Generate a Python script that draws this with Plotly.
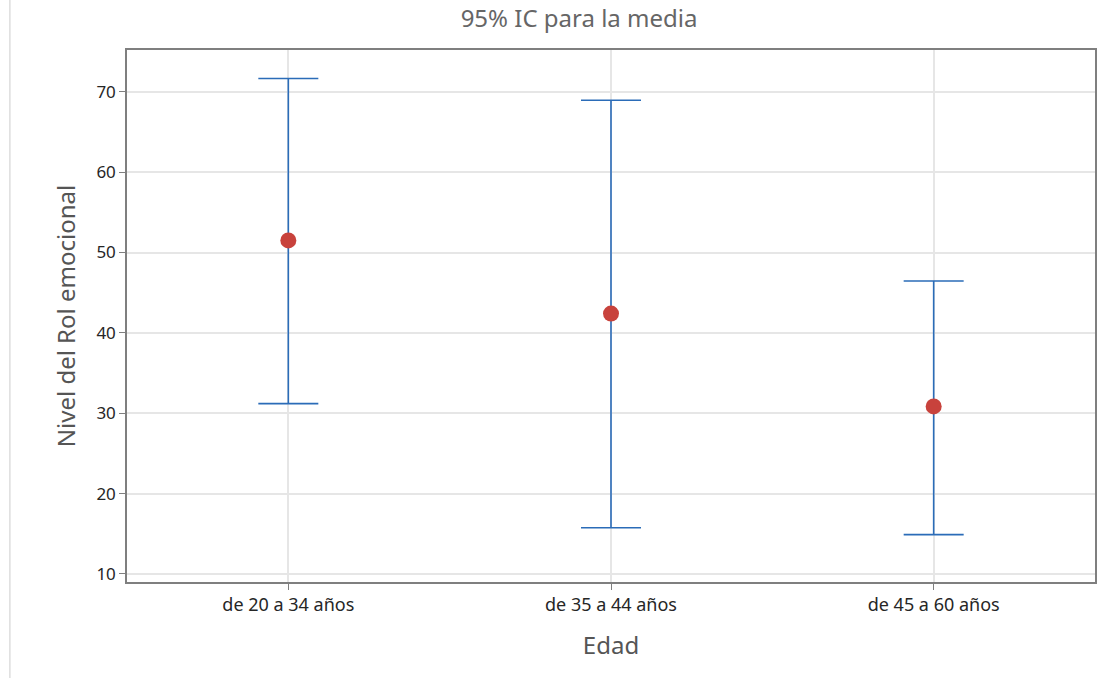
import plotly.graph_objects as go

categories = ["de 20 a 34 años", "de 35 a 44 años", "de 45 a 60 años"]
means = [51.5, 42.4, 30.85]
upper = [71.65, 68.95, 46.45]
lower = [31.2, 15.75, 14.9]

err_plus = [u - m for u, m in zip(upper, means)]
err_minus = [m - l for m, l in zip(means, lower)]

fig = go.Figure()
fig.add_trace(go.Scatter(
    x=categories, y=means, mode="markers",
    marker=dict(color="#C8423C", size=16, symbol="circle"),
    error_y=dict(type="data", symmetric=False, array=err_plus, arrayminus=err_minus,
                 color="#2B6CB8", thickness=1.6, width=30),
    showlegend=False,
))

FONT = "Noto Sans, Open Sans, sans-serif"
fig.update_layout(
    width=1111, height=678,
    margin=dict(l=127, r=16, t=50, b=96),
    paper_bgcolor="white", plot_bgcolor="white",
    font=dict(family=FONT),
    title=dict(text="95% IC para la media", x=0.467, xref="paper", xanchor="center",
               y=0.972, yref="container", yanchor="middle",
               font=dict(family=FONT, size=24, color="#666666")),
    xaxis=dict(
        title=dict(text="Edad", font=dict(size=24, color="#555555"), standoff=22),
        type="category", range=[-0.5, 2.5],
        showgrid=True, gridcolor="#E6E6E6", gridwidth=1.5,
        showline=True, linecolor="#7F7F7F", linewidth=1.5, mirror=True,
        ticks="outside", ticklen=6, tickcolor="#7F7F7F",
        tickfont=dict(family=FONT, size=18, color="#262626"), zeroline=False,
    ),
    yaxis=dict(
        title=dict(text="Nivel del Rol emocional", font=dict(size=24, color="#555555"), standoff=14),
        range=[9.0, 75.2], tickvals=[10, 20, 30, 40, 50, 60, 70],
        showgrid=True, gridcolor="#E6E6E6", gridwidth=1.5,
        showline=True, linecolor="#7F7F7F", linewidth=1.5, mirror=True,
        ticks="outside", ticklen=6, tickcolor="#7F7F7F",
        tickfont=dict(family=FONT, size=17, color="#262626"), zeroline=False,
    ),
    shapes=[dict(type="line", xref="paper", yref="paper",
                 x0=-0.121, x1=-0.121, y0=-0.2, y1=1.1,
                 line=dict(color="#DDDDDD", width=1.5))],
)

fig.write_html("out.html", config={"displayModeBar": False},
               post_script="document.body.style.margin='0';document.body.style.overflow='hidden';")
